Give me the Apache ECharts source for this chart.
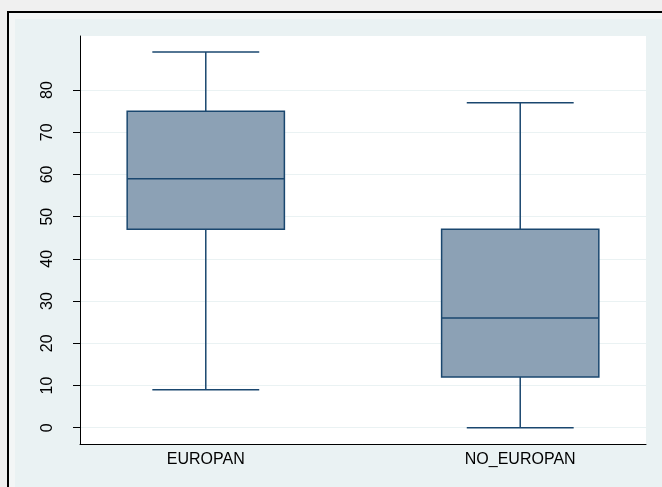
<!DOCTYPE html>
<html>
<head>
<meta charset="utf-8">
<style>
  html, body { margin: 0; padding: 0; background: #F0F0F0; }
  #chart { width: 662px; height: 487px; }
</style>
<script src="https://cdn.jsdelivr.net/npm/echarts@6/dist/echarts.min.js"></script>
</head>
<body>
<div id="chart"></div>
<script>
// Group labels and five-number summaries for each box
const categories = ['EUROPAN', 'NO_EUROPAN'];
const lowerWhisker = [9, 0];
const q1 = [47, 12];
const median = [59, 26];
const q3 = [75, 47];
const upperWhisker = [89, 77];
const yTicks = [0, 10, 20, 30, 40, 50, 60, 70, 80];

const boxData = categories.map((c, i) => [i + 1, lowerWhisker[i], q1[i], median[i], q3[i], upperWhisker[i]]);

const BOX_HALF = 0.25;   // half box width in x-axis units
const CAP_HALF = 0.17;   // half whisker-cap width
const lineColor = '#1A476F';
const fillColor = '#8CA1B5';

function renderBox(params, api) {
  const x = api.value(0);
  const lo = api.value(1), a = api.value(2), m = api.value(3), b = api.value(4), hi = api.value(5);
  const pLo = api.coord([x, lo]);
  const pA = api.coord([x, a]);
  const pM = api.coord([x, m]);
  const pB = api.coord([x, b]);
  const pHi = api.coord([x, hi]);
  const boxL = api.coord([x - BOX_HALF, a])[0];
  const boxR = api.coord([x + BOX_HALF, a])[0];
  const capL = api.coord([x - CAP_HALF, a])[0];
  const capR = api.coord([x + CAP_HALF, a])[0];
  const line = { stroke: lineColor, lineWidth: 1.5 };
  return {
    type: 'group',
    children: [
      { type: 'line', shape: { x1: pB[0], y1: pB[1], x2: pHi[0], y2: pHi[1] }, style: line },
      { type: 'line', shape: { x1: pA[0], y1: pA[1], x2: pLo[0], y2: pLo[1] }, style: line },
      { type: 'line', shape: { x1: capL, y1: pHi[1], x2: capR, y2: pHi[1] }, style: line },
      { type: 'line', shape: { x1: capL, y1: pLo[1], x2: capR, y2: pLo[1] }, style: line },
      { type: 'rect', shape: { x: boxL, y: pB[1], width: boxR - boxL, height: pA[1] - pB[1] },
        style: { fill: fillColor, stroke: lineColor, lineWidth: 1.5 } },
      { type: 'line', shape: { x1: boxL, y1: pM[1], x2: boxR, y2: pM[1] }, style: line }
    ]
  };
}

const chart = echarts.init(document.getElementById('chart'), null, { renderer: 'canvas' });
chart.setOption({
  backgroundColor: '#F0F0F0',
  animation: false,
  graphic: {
    z: -10,
    elements: [
      { type: 'rect', z: -10, shape: { x: 8, y: 12, width: 700, height: 500 },
        style: { fill: '#F3F6F6', stroke: '#000', lineWidth: 2 } },
      { type: 'rect', z: -9, shape: { x: 15, y: 19, width: 700, height: 500 },
        style: { fill: '#EAF2F3' } }
    ]
  },
  grid: {
    left: 80, top: 36, right: 16, bottom: 43,
    show: true, backgroundColor: '#FFFFFF', borderWidth: 0
  },
  xAxis: {
    type: 'value', min: 0.6, max: 2.4,
    axisLine: { show: true, onZero: false, lineStyle: { color: '#000', width: 1 } },
    axisTick: { show: false },
    splitLine: { show: false },
    axisLabel: {
      customValues: [1, 2],
      formatter: v => categories[Math.round(v) - 1],
      fontFamily: 'Liberation Sans', fontSize: 16, color: '#000', margin: 8
    }
  },
  yAxis: {
    type: 'value', min: -3.86, max: 92.8,
    axisLine: { show: true, onZero: false, lineStyle: { color: '#000', width: 1 } },
    axisTick: { show: true, customValues: yTicks, length: 7, lineStyle: { color: '#000' } },
    splitLine: { show: true, lineStyle: { color: '#EAF2F3', width: 1 } },
    axisLabel: {
      customValues: yTicks, rotate: 90,
      fontFamily: 'Liberation Sans', fontSize: 16, color: '#000', margin: 24
    }
  },
  series: [{
    type: 'custom',
    renderItem: renderBox,
    encode: { x: 0, y: [1, 2, 3, 4, 5] },
    data: boxData
  }]
});
</script>
</body>
</html>
